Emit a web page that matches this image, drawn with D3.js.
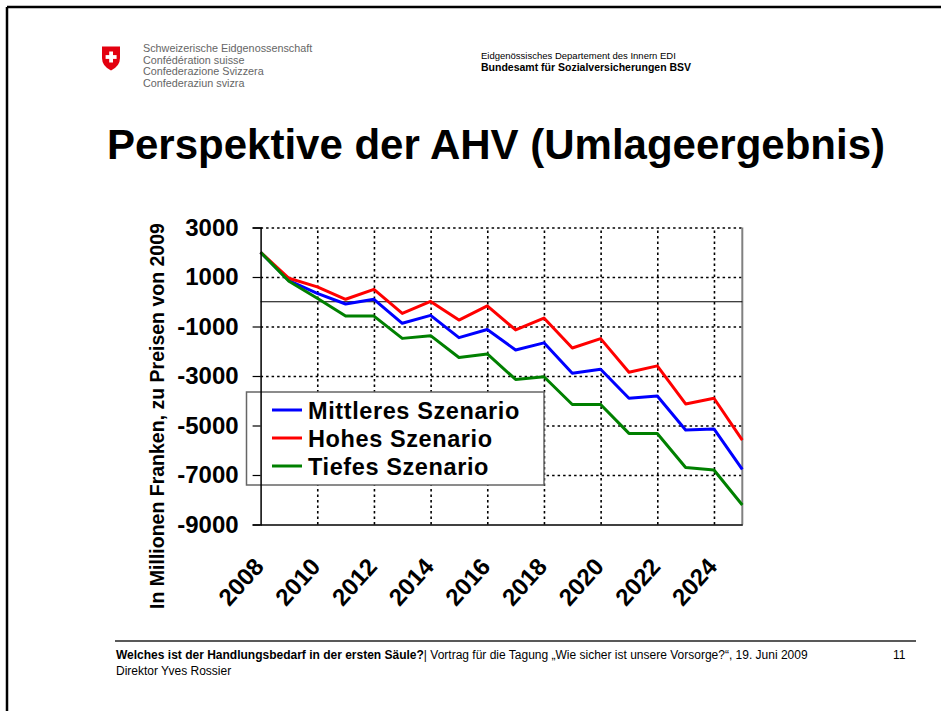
<!DOCTYPE html>
<html>
<head>
  <meta charset="UTF-8">
  <title>Perspektive der AHV (Umlageergebnis)</title>
  <style>
    body { margin: 0; background: #fff; }
    svg text { font-family: "Liberation Sans", Arial, sans-serif; }
    .grid line { stroke: #000; stroke-width: 1.6px; stroke-dasharray: 2.5, 3; }
    .grid path { display: none; }
    .series { fill: none; stroke-width: 3px; stroke-linejoin: round; }
  </style>
</head>
<body>
  <svg id="chart" width="941" height="711"></svg>
  <script src="https://cdn.jsdelivr.net/npm/d3@7/dist/d3.min.js"></script>
  <script>
    // data (Mio. Franken, Preise 2009)
    var years = [2008, 2009, 2010, 2011, 2012, 2013, 2014, 2015, 2016, 2017, 2018, 2019, 2020, 2021, 2022, 2023, 2024, 2025];
    var mittleres = [2000, 850, 340, -90, 100, -870, -550, -1450, -1120, -1950, -1660, -2890, -2730, -3900, -3810, -5180, -5140, -6770];
    var hohes = [2000, 950, 600, 100, 500, -470, 15, -740, -170, -1140, -660, -1870, -1490, -2850, -2590, -4130, -3900, -5590];
    var tiefes = [2000, 830, 140, -580, -580, -1480, -1370, -2250, -2110, -3140, -3030, -4150, -4150, -5320, -5320, -6700, -6800, -8210];

    var seriesNames = ["Mittleres Szenario", "Hohes Szenario", "Tiefes Szenario"];
    var seriesColors = ["#0000ff", "#ff0000", "#008000"];
    var yTicks = [3000, 1000, -1000, -3000, -5000, -7000, -9000];
    var xTicks = [2008, 2010, 2012, 2014, 2016, 2018, 2020, 2022, 2024];

    var svg = d3.select("#chart");

    // slide frame
    svg.append("line").attr("x1", 7).attr("y1", 7).attr("x2", 941).attr("y2", 7)
      .attr("stroke", "#000").attr("stroke-width", 2.5);
    svg.append("line").attr("x1", 7).attr("y1", 7).attr("x2", 7).attr("y2", 711)
      .attr("stroke", "#000").attr("stroke-width", 2.5);

    // header: logo + names
    var logo = svg.append("g");
    logo.append("path")
      .attr("d", "M102,46.5 L120,46.5 L120,58 Q120,66 111,70.5 Q102,66 102,58 Z")
      .attr("fill", "#e3000f");
    logo.append("rect").attr("x", 109.2).attr("y", 51.5).attr("width", 3.8).attr("height", 11).attr("fill", "#fff");
    logo.append("rect").attr("x", 105.6).attr("y", 55.1).attr("width", 11).attr("height", 3.8).attr("fill", "#fff");

    var confed = ["Schweizerische Eidgenossenschaft", "Confédération suisse", "Confederazione Svizzera", "Confederaziun svizra"];
    svg.append("g").selectAll("text").data(confed).enter().append("text")
      .attr("x", 143)
      .attr("y", function (d, i) { return 52 + i * 11.5; })
      .attr("font-size", "10.8px")
      .attr("fill", "#666")
      .text(function (d) { return d; });

    svg.append("text").attr("x", 481).attr("y", 59).attr("font-size", "9.5px")
      .text("Eidgenössisches Departement des Innern EDI");
    svg.append("text").attr("x", 481).attr("y", 70.5).attr("font-size", "10.5px").attr("font-weight", "bold")
      .text("Bundesamt für Sozialversicherungen BSV");

    // title
    svg.append("text").attr("x", 496).attr("y", 159).attr("text-anchor", "middle")
      .attr("font-size", "42px").attr("font-weight", "bold")
      .text("Perspektive der AHV (Umlageergebnis)");

    // scales
    var x = d3.scaleLinear().domain([2008, 2025]).range([260.6, 742.3]),
      y = d3.scaleLinear().domain([-9000, 3000]).range([524.5, 227.5]);

    var g = svg.append("g");

    // dotted gridlines
    g.append("g").attr("class", "grid")
      .attr("transform", "translate(0," + y(-9000) + ")")
      .call(d3.axisBottom(x).tickValues(xTicks.slice(1)).tickSize(-(y(-9000) - y(3000))).tickFormat(""));
    g.append("g").attr("class", "grid")
      .attr("transform", "translate(" + x(2008) + ",0)")
      .call(d3.axisLeft(y).tickValues(yTicks.slice(0, -1)).tickSize(-(x(2025) - x(2008))).tickFormat(""));

    // right plot border
    g.append("line").attr("x1", x(2025)).attr("x2", x(2025)).attr("y1", y(3000)).attr("y2", y(-9000))
      .attr("stroke", "#808080").attr("stroke-width", 2);

    // zero line
    g.append("line").attr("x1", x(2008)).attr("x2", x(2025)).attr("y1", y(0)).attr("y2", y(0))
      .attr("stroke", "#000").attr("stroke-width", 1);

    // legend box (sits on top of the grid, under the axis)
    var legend = g.append("g");
    legend.append("rect").attr("x", 246.5).attr("y", 392).attr("width", 297.5).attr("height", 93)
      .attr("fill", "#fff").attr("stroke", "#666").attr("stroke-width", 1.5);
    var items = legend.selectAll("g.item").data(seriesNames).enter().append("g")
      .attr("transform", function (d, i) { return "translate(0," + (410 + i * 28) + ")"; });
    items.append("line").attr("x1", 272).attr("x2", 302).attr("y1", 0).attr("y2", 0)
      .attr("stroke", function (d, i) { return seriesColors[i]; }).attr("stroke-width", 3);
    items.append("text").attr("x", 308).attr("y", 8.5)
      .attr("font-size", "23.5px").attr("font-weight", "bold")
      .attr("letter-spacing", "0.6px")
      .text(function (d) { return d; });

    // series lines
    var line = d3.line()
      .x(function (d, i) { return x(years[i]); })
      .y(function (d) { return y(d); });

    g.selectAll("path.series").data([mittleres, hohes, tiefes]).enter().append("path")
      .attr("class", "series")
      .attr("stroke", function (d, i) { return seriesColors[i]; })
      .attr("d", line);

    // y axis (plain hyphen as minus, like the slide)
    var yAxis = g.append("g")
      .attr("transform", "translate(" + x(2008) + ",0)")
      .call(d3.axisLeft(y).tickValues(yTicks).tickSize(8).tickPadding(14)
        .tickFormat(function (d) { return String(d); }));
    yAxis.select(".domain").attr("stroke", "#000").attr("stroke-width", 1.5);
    yAxis.selectAll(".tick line").attr("stroke", "#000").attr("stroke-width", 1.2);
    yAxis.selectAll(".tick text")
      .attr("font-size", "24px").attr("font-weight", "bold").attr("fill", "#000")
      .attr("font-family", "Liberation Sans, Arial, sans-serif");

    // x axis
    var xAxis = g.append("g")
      .attr("transform", "translate(0," + y(-9000) + ")")
      .call(d3.axisBottom(x).tickValues(xTicks).tickSize(0).tickFormat(function (d) { return String(d); }));
    xAxis.select(".domain").attr("stroke", "#000").attr("stroke-width", 1.5);
    xAxis.selectAll(".tick text")
      .attr("font-size", "24px").attr("font-weight", "bold").attr("fill", "#000")
      .attr("font-family", "Liberation Sans, Arial, sans-serif")
      .attr("text-anchor", "end")
      .attr("dy", null)
      .attr("y", 0)
      .attr("transform", "translate(4,43) rotate(-48)");

    // y axis title
    svg.append("text")
      .attr("transform", "translate(164,416) rotate(-90)")
      .attr("text-anchor", "middle")
      .attr("font-size", "19.5px").attr("font-weight", "bold")
      .text("In Millionen Franken, zu Preisen von 2009");

    // footer
    svg.append("line").attr("x1", 115).attr("x2", 916).attr("y1", 641).attr("y2", 641)
      .attr("stroke", "#222").attr("stroke-width", 1.5);
    var foot = svg.append("text").attr("x", 116).attr("y", 659).attr("font-size", "12px");
    foot.append("tspan").attr("font-weight", "bold").text("Welches ist der Handlungsbedarf in der ersten Säule?");
    foot.append("tspan").text("| Vortrag für die Tagung „Wie sicher ist unsere Vorsorge?“, 19. Juni 2009");
    svg.append("text").attr("x", 116).attr("y", 675).attr("font-size", "12px").text("Direktor Yves Rossier");
    svg.append("text").attr("x", 893).attr("y", 659).attr("font-size", "12px").text("11");
  </script>
</body>
</html>
